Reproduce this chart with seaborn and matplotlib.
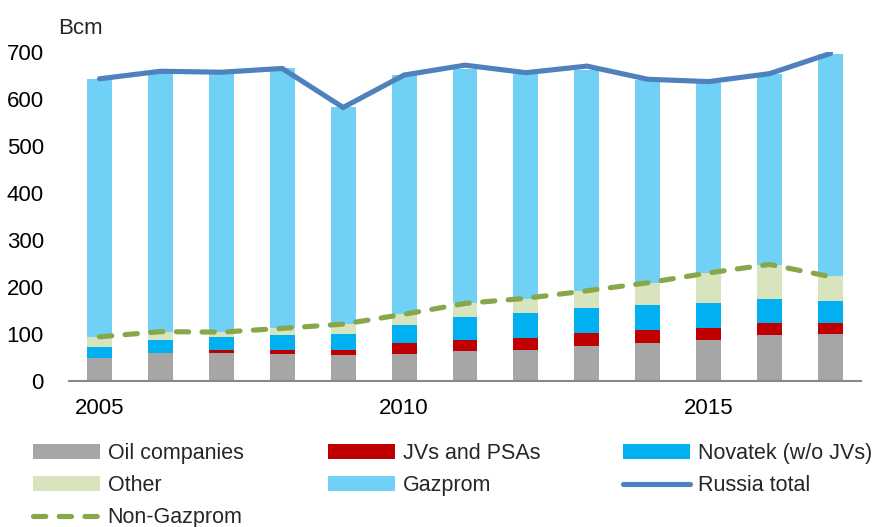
import numpy as np
import pandas as pd
import matplotlib
matplotlib.use("Agg")
import matplotlib.pyplot as plt
import seaborn as sns
from matplotlib.patches import Patch
from matplotlib.lines import Line2D

sns.set_theme(style="white")
plt.rcParams['font.family'] = ['Liberation Sans', 'DejaVu Sans']

years = list(range(2005, 2018))
oil_companies = [49, 59, 59, 57, 55, 57, 64, 67, 75, 81, 87, 98, 99]
jvs_psas = [0, 0, 8, 10, 12, 24, 23, 25, 28, 28, 26, 26, 25]
novatek = [23, 28, 27, 31, 33, 38, 50, 53, 53, 53, 52, 51, 47]
other = [22, 18, 10, 15, 21, 23, 28, 29, 36, 46, 64, 72, 52]
gazprom = [549, 553, 552, 553, 463, 509, 499, 479, 470, 432, 406, 407, 473]
russia_total = [643, 659, 657, 665, 582, 651, 672, 656, 670, 642, 637, 654, 697]
non_gazprom = [94, 105, 104, 112, 121, 142, 165, 176, 192, 209, 230, 248, 222]

names = ["Oil companies", "JVs and PSAs", "Novatek (w/o JVs)", "Other", "Gazprom"]
colors = ["#A6A6A6", "#C00000", "#00B0F0", "#D7E4BD", "#71D0F5"]
c_total = "#4F81BD"
c_nongaz = "#86A84A"

df = pd.DataFrame({"year": years, names[0]: oil_companies, names[1]: jvs_psas,
                   names[2]: novatek, names[3]: other, names[4]: gazprom})
cum = df[names].cumsum(axis=1)

fig = plt.figure(figsize=(8.77, 5.27), dpi=100)
ax = fig.add_axes([69 / 877, 1 - 381 / 527, (861 - 69) / 877, (381 - 52) / 527])

# stacked bars: draw cumulative totals from the top layer down
for name, col in zip(reversed(names), reversed(colors)):
    sns.barplot(x=df["year"], y=cum[name], color=col, width=0.41, native_scale=True,
                saturation=1, ax=ax, linewidth=0, errorbar=None)

sns.lineplot(x=years, y=russia_total, color=c_total, lw=3.7, ax=ax,
             solid_capstyle="round", solid_joinstyle="miter")
sns.lineplot(x=years, y=non_gazprom, color=c_nongaz, lw=3.7, ax=ax,
             dashes=False, linestyle=(0, (2.4, 2.6)), dash_capstyle="round")

fs = 16
ax.set_xlim(2004.5, 2017.5)
ax.set_ylim(0, 700)
ax.set_yticks(range(0, 701, 100))
ax.set_xticks([2005, 2010, 2015])
ax.set_xticks(np.arange(2004.5, 2018, 1), minor=True)
ax.tick_params(axis="y", length=0, pad=18, labelsize=fs, colors="black")
ax.tick_params(axis="x", which="major", length=0, pad=12, labelsize=fs, colors="black")
ax.tick_params(axis="x", which="minor", length=7, width=1.5, color="#7F8A93", direction="out")
ax.set_xlabel("")
ax.set_ylabel("")
for s in ["top", "right", "left"]:
    ax.spines[s].set_visible(False)
ax.spines["bottom"].set_color("#7F8A93")
ax.spines["bottom"].set_linewidth(1.5)
ax.grid(False)

fig.text(58 / 877, 1 - 28 / 527, "Bcm", fontsize=fs, va="center", ha="left")

h = {n: Patch(facecolor=c, edgecolor="none") for n, c in zip(names, colors)}
h["Russia total"] = Line2D([], [], color=c_total, lw=3.7, solid_capstyle="round")
h["Non-Gazprom"] = Line2D([], [], color=c_nongaz, lw=3.7, linestyle=(0, (2.4, 2.6)),
                          dash_capstyle="round")
columns = [(33, ["Oil companies", "Other", "Non-Gazprom"]),
           (328, ["JVs and PSAs", "Gazprom"]),
           (623, ["Novatek (w/o JVs)", "Russia total"])]
for x0, labels in columns:
    leg = fig.legend([h[k] for k in labels], labels, loc="upper left",
                     bbox_to_anchor=(x0 / 877, 1 - 443 / 527), frameon=False, fontsize=15.5,
                     handlelength=3.1, handleheight=0.65, handletextpad=0.37,
                     labelspacing=0.52, borderaxespad=0, borderpad=0)

fig.savefig("out.png", dpi=100)
